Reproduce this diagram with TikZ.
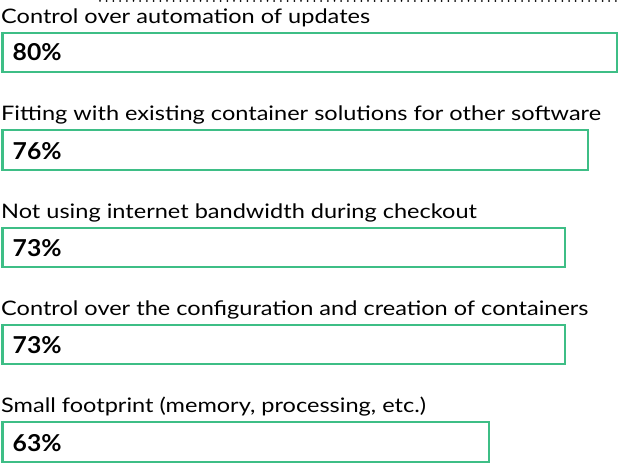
\documentclass[tikz,border=0pt]{standalone}
\usepackage{fontspec}
\setmainfont{Lato}[FakeStretch=1.177]
\newfontfamily\pctfont{Lato}[FakeStretch=1.06]
\usepackage{tikz}
\definecolor{bargreen}{RGB}{62,190,134}
\tikzset{
  bar/.style={draw=bargreen,line width=2pt},
  barleft/.style={draw=bargreen,line width=3pt},
  label/.style={anchor=base west,inner sep=0pt,font=\fontsize{20}{22}\selectfont},
  pct/.style={anchor=base west,inner sep=0pt,font=\pctfont\fontsize{23.3}{26}\selectfont\bfseries}
}
\begin{document}
\begin{tikzpicture}[x=1pt,y=-1pt]
          \useasboundingbox (0,0) rectangle (619,470);
          \draw[dotted,line width=2pt,line cap=round,dash pattern=on 0pt off 6.7pt] (100,1) -- (619,1);
          \node[label] (lab1) at (1,23.5) {Control over automation of updates};
          \draw[bar] (2,33) rectangle (617,72);
          \draw[barleft] (2.5,32) -- (2.5,73);
          \node[pct] (pct1) at (12.5,61) {80\%};
          \node[label] (lab2) at (1,121) {Fitting with existing container solutions for other software};
          \draw[bar] (2,130.5) rectangle (588,170);
          \draw[barleft] (2.5,129.5) -- (2.5,171);
          \node[pct] (pct2) at (12.5,160) {76\%};
          \node[label] (lab3) at (1,218.5) {Not using internet bandwidth during checkout};
          \draw[bar] (2,228) rectangle (565,267);
          \draw[barleft] (2.5,227) -- (2.5,268);
          \node[pct] (pct3) at (12.5,257) {73\%};
          \node[label] (lab4) at (1,315.5) {Control over the configuration and creation of containers};
          \draw[bar] (2,325) rectangle (565,364);
          \draw[barleft] (2.5,324) -- (2.5,365);
          \node[pct] (pct4) at (12.5,354) {73\%};
          \node[label] (lab5) at (1,412.5) {Small footprint (memory, processing, etc.)};
          \draw[bar] (2,422) rectangle (489,462);
          \draw[barleft] (2.5,421) -- (2.5,463);
          \node[pct] (pct5) at (12.5,451.5) {63\%};
        \end{tikzpicture}
\end{document}
